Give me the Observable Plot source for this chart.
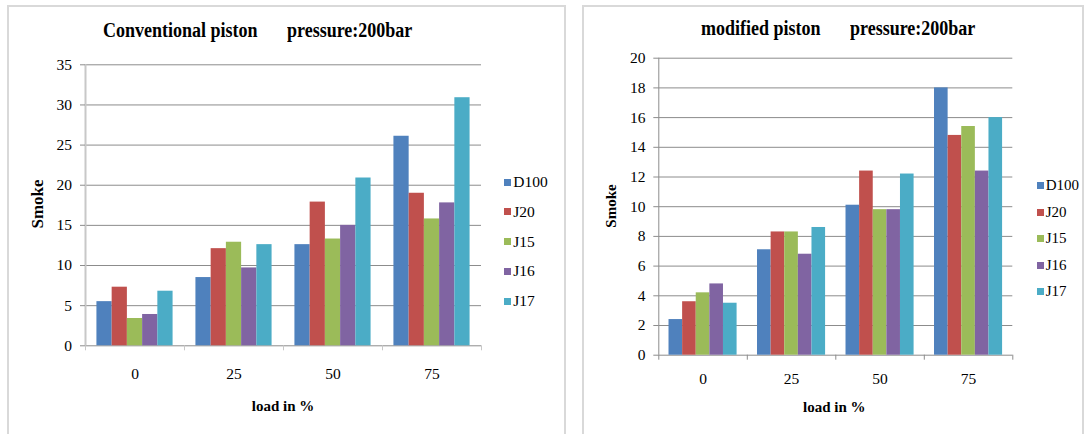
<!DOCTYPE html>
<html>
<head>
<meta charset="utf-8">
<script src="https://cdn.jsdelivr.net/npm/d3@7"></script>
<script src="https://cdn.jsdelivr.net/npm/@observablehq/plot@0.6"></script>
<style>
  html, body { margin: 0; padding: 0; background: #fff; }
  #page { position: relative; width: 1085px; height: 434px; overflow: hidden;
          font-family: "Liberation Serif", "Times New Roman", serif; color: #000; }
  .panel { position: absolute; box-sizing: border-box; border: 2px solid #d9d9d9; }
  .chart { position: absolute; top: 0; }
  .title { position: absolute; font-weight: bold; font-size: 20px; line-height: 1;
           white-space: nowrap; transform: scaleX(0.9); transform-origin: 0 0; }
  .lab { position: absolute; font-weight: bold; white-space: nowrap; line-height: 1; }
  .leg { position: absolute; white-space: nowrap; line-height: 1; }
  .sw { position: absolute; width: 7px; height: 7px; }
</style>
</head>
<body>
<div id="page"></div>
<script>
// Engine load categories (%) and fuel blends
const loads = ["0", "25", "50", "75"];
const series = ["D100", "J20", "J15", "J16", "J17"];
const colors = ["#4F81BD", "#C0504D", "#9BBB59", "#8064A2", "#4BACC6"];

// Smoke, conventional piston, 200 bar injection pressure (one value per load)
const convD100 = [5.5, 8.5, 12.6, 26.1];
const convJ20  = [7.3, 12.1, 17.9, 19.0];
const convJ15  = [3.4, 12.9, 13.3, 15.8];
const convJ16  = [3.9, 9.7, 15.0, 17.8];
const convJ17  = [6.8, 12.6, 20.9, 30.9];

// Smoke, modified piston, 200 bar injection pressure
const modD100 = [2.4, 7.1, 10.1, 18.0];
const modJ20  = [3.6, 8.3, 12.4, 14.8];
const modJ15  = [4.2, 8.3, 9.8, 15.4];
const modJ16  = [4.8, 6.8, 9.8, 12.4];
const modJ17  = [3.5, 8.6, 12.2, 16.0];

const convTicks = d3.range(0, 36, 5);
const modTicks = d3.range(0, 21, 2);

const page = document.getElementById("page");

function el(cls, css, text) {
  const d = document.createElement("div");
  d.className = cls;
  Object.assign(d.style, css);
  if (text != null) d.textContent = text;
  page.appendChild(d);
  return d;
}

function drawChart(cfg) {
  const rows = loads.flatMap((l, li) =>
    series.map((s, si) => ({li, si, series: s, value: cfg.values[si][li]})));
  // bar slot inside one category band: 5 bars plus a 150% gap
  const slot = 1 / (series.length + 1.5);
  const grid = "#8c8c8c";
  const svg = Plot.plot({
    width: cfg.width,
    height: 434,
    marginLeft: cfg.margin[0],
    marginRight: cfg.margin[1],
    marginTop: cfg.margin[2],
    marginBottom: cfg.margin[3],
    style: {background: "transparent", fontFamily: "'Liberation Serif', 'Times New Roman', serif",
            fontSize: "15.5px", color: "#000", overflow: "visible"},
    x: {type: "linear", domain: [0, loads.length]},
    y: {domain: [0, cfg.ticks[cfg.ticks.length - 1]]},
    color: {domain: series, range: colors},
    marks: [
      Plot.gridY(cfg.ticks, {stroke: grid, strokeOpacity: 1}),
      Plot.rectY(rows, {
        x1: d => d.li + slot * (0.75 + d.si),
        x2: d => d.li + slot * (1.75 + d.si),
        y1: 0, y2: "value", fill: "series"
      }),
      Plot.ruleX([0], {stroke: cfg.axisColor, strokeWidth: cfg.axisWidth}),
      Plot.axisY(cfg.ticks, {tickSize: 5, tickPadding: cfg.yPad, stroke: grid, label: null,
                             tickFormat: d => String(d)}),
      Plot.axisX(d3.range(loads.length + 1), {tickSize: 5, tickFormat: () => "", stroke: cfg.axisColor, label: null}),
      Plot.axisX(loads.map((l, i) => i + 0.5), {tickSize: 0, tickPadding: cfg.xPad, label: null,
                                               tickFormat: d => loads[Math.floor(d)]})
    ]
  });
  const wrap = el("chart", {left: cfg.left + "px"});
  wrap.appendChild(svg);
}

function drawLegend(x, textX, y0, step, size) {
  series.forEach((s, i) => {
    const cy = y0 + i * step;
    el("sw", {left: x + "px", top: (cy - 3.5) + "px", background: colors[i]});
    el("leg", {left: textX + "px", top: (cy - 0.51 * size) + "px", fontSize: size + "px"}, s);
  });
}

function centered(cls, x, y, size, text, rotate) {
  el(cls, {left: x + "px", top: y + "px", fontSize: size + "px",
           transform: `translate(-50%, -50%)${rotate ? " rotate(-90deg)" : ""}`}, text);
}

// panel frames
el("panel", {left: "7px", top: "5px", width: "559px", height: "440px"});
el("panel", {left: "582px", top: "5px", width: "502px", height: "440px"});

// conventional piston
drawChart({
  values: [convD100, convJ20, convJ15, convJ16, convJ17],
  ticks: convTicks, left: 0, width: 566,
  margin: [85, 85, 64.3, 88.7],
  axisColor: "#c8c8c8", axisWidth: 2, yPad: 8.5, xPad: 22
});
el("title", {left: "103.3px", top: "20px"}, "Conventional piston");
el("title", {left: "286.7px", top: "20px"}, "pressure:200bar");
centered("lab", 37.3, 204.3, 17, "Smoke", true);
centered("lab", 283, 406, 15, "load in %");
drawLegend(504.3, 513.3, 182, 29.75, 15.5);

// modified piston
drawChart({
  values: [modD100, modJ20, modJ15, modJ16, modJ17],
  ticks: modTicks, left: 580, width: 505,
  margin: [78.3, 72.7, 57.7, 79.3],
  axisColor: "#8c8c8c", axisWidth: 1, yPad: 8.3, xPad: 17.7
});
el("title", {left: "701px", top: "17.5px"}, "modified piston");
el("title", {left: "850px", top: "17.5px"}, "pressure:200bar");
centered("lab", 610.7, 206.3, 15, "Smoke", true);
centered("lab", 834.3, 407.3, 15, "load in %");
drawLegend(1036.7, 1045.7, 185.7, 26.5, 15);
</script>
</body>
</html>
